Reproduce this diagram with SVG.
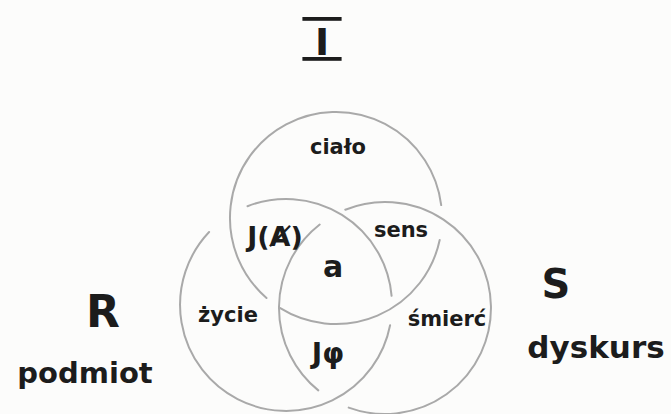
<svg xmlns="http://www.w3.org/2000/svg" width="671" height="414" viewBox="0 0 671 414">
<style>
.ring{fill:none;stroke:#a9a9a9;stroke-width:2;stroke-linecap:round}
.t{font-family:"DejaVu Sans","Liberation Sans",sans-serif;font-weight:bold;fill:#1c1c1c;text-anchor:middle}
</style>
<rect width="671" height="414" fill="#fcfcfb"/>
<g id="ring-I">
<path class="ring" d="M439.7,240 A106,106 0 0 1 279.8,307.9 M266.5,298 A106,106 0 1 1 441.2,205.1"/>
<text class="t" x="322" y="55" font-size="38" style="text-decoration:overline underline;white-space:pre">&#8196;I&#8196;</text>
<text class="t" x="338" y="154" font-size="21">ciało</text>
</g>
<g id="ring-R">
<path class="ring" d="M390.1,325.2 A106,106 0 1 1 209.1,232 M247.5,206.2 A106,106 0 0 1 391.6,295.8"/>
<text class="t" x="103" y="327" font-size="44">R</text>
<text class="t" x="85" y="383" font-size="29">podmiot</text>
</g>
<g id="ring-S">
<path class="ring" d="M318.3,390.4 A106,106 0 0 1 319.7,224.5 M345.3,209.7 A106,106 0 1 1 348.7,407.6"/>
<text class="t" x="556" y="298" font-size="40">S</text>
<text class="t" x="596" y="358" font-size="31">dyskurs</text>
</g>
<g id="regions">
<text class="t" x="275" y="246" font-size="27">J(Ⱥ)</text>
<text class="t" x="401" y="237" font-size="21">sens</text>
<text class="t" x="333" y="277" font-size="30">a</text>
<text class="t" x="228" y="322" font-size="21">życie</text>
<text class="t" x="447" y="326" font-size="21">śmierć</text>
<text class="t" x="328" y="363" font-size="28">Jφ</text>
</g>
</svg>
